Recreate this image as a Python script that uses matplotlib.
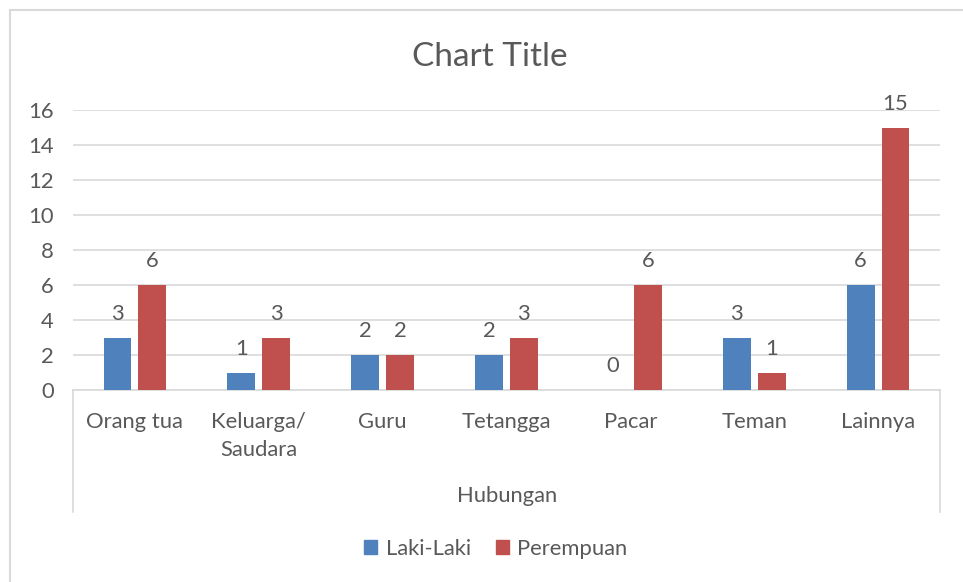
import matplotlib
matplotlib.use("Agg")
import matplotlib.pyplot as plt
from matplotlib.lines import Line2D
from matplotlib.patches import Patch
import numpy as np

categories = ["Orang tua", "Keluarga/\nSaudara", "Guru", "Tetangga", "Pacar", "Teman", "Lainnya"]
laki = [3, 1, 2, 2, 0, 3, 6]
perempuan = [6, 3, 2, 3, 6, 1, 15]
series_names = ["Laki-Laki", "Perempuan"]
axis_title = "Hubungan"
chart_title = "Chart Title"
yticks = [0, 2, 4, 6, 8, 10, 12, 14, 16]

BLUE = "#4f81bd"
RED = "#c0504d"
TXT = "#595959"
GRID = "#d9d9d9"
FS = 15.8

plt.rcParams['font.family'] = ['Lato', 'DejaVu Sans']

W, H = 963, 582
fig = plt.figure(figsize=(W / 100, H / 100), dpi=100)

def fx(px):
    return px / W

def fy(py):
    return 1 - py / H

left, right, top, bottom = 73, 940, 110, 390
ax = fig.add_axes([fx(left), fy(bottom), fx(right) - fx(left), fy(top) - fy(bottom)])

x = np.arange(len(categories))
bw = 0.225
off = 0.141
b1 = ax.bar(x - off, laki, bw, color=BLUE, zorder=3)
b2 = ax.bar(x + off, perempuan, bw, color=RED, zorder=3)

for bars in (b1, b2):
    for rect in bars:
        h = rect.get_height()
        ax.annotate(f"{int(h)}", (rect.get_x() + rect.get_width() / 2, h),
                    xytext=(0, 10), textcoords="offset points",
                    ha="center", va="bottom", fontsize=FS, color=TXT)

ax.set_xlim(-0.5, len(categories) - 0.5)
ax.set_ylim(0, 16)
ax.set_yticks(yticks)
ax.yaxis.grid(True, color=GRID, linewidth=1.2, zorder=0)
ax.set_axisbelow(True)
for s in ["top", "right", "left"]:
    ax.spines[s].set_visible(False)
ax.spines["bottom"].set_color(GRID)
ax.spines["bottom"].set_linewidth(1.2)
ax.tick_params(axis="y", length=0, pad=14, labelsize=FS, labelcolor=TXT)
ax.set_xticks(x)
ax.set_xticklabels(categories, fontsize=FS, color=TXT, linespacing=1.5)
ax.tick_params(axis="x", length=0, pad=16)

# multi-level axis separators
for px in (left, right):
    fig.add_artist(Line2D([fx(px), fx(px)], [fy(bottom), fy(512)], color=GRID, linewidth=1.2))
fig.text(fx(507), fy(496), axis_title, ha="center", va="center", fontsize=FS, color=TXT)

# title
fig.text(fx(490), fy(57), chart_title, ha="center", va="center", fontsize=24, color=TXT)

# chart border
fig.add_artist(Line2D([fx(9.5), 1.0], [fy(10), fy(10)], color=GRID, linewidth=1.5))
fig.add_artist(Line2D([fx(9.5), fx(9.5)], [fy(10), 0], color=GRID, linewidth=1.5))

handles = [Patch(color=BLUE), Patch(color=RED)]
fig.legend(handles, series_names, loc="center", bbox_to_anchor=(fx(496), fy(549)),
           ncol=2, frameon=False, fontsize=FS, labelcolor=TXT,
           handlelength=0.6, handleheight=0.6, handletextpad=0.4, columnspacing=1.1)

fig.savefig("out.png", dpi=100)
